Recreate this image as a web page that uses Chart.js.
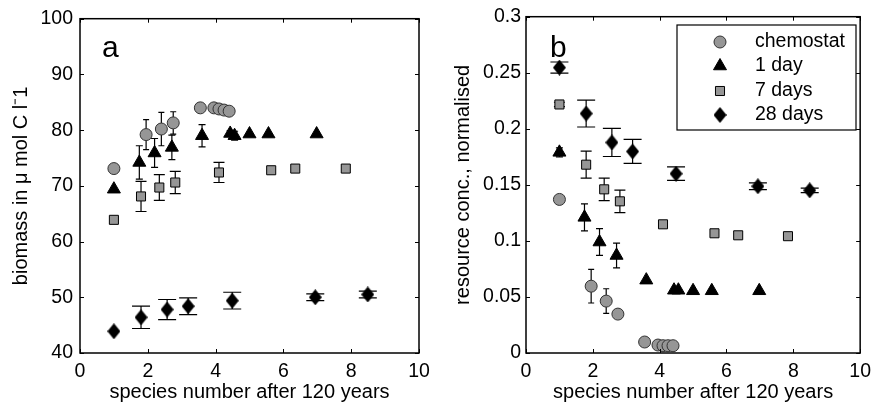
<!DOCTYPE html>
<html>
<head>
<meta charset="utf-8">
<script src="https://cdn.jsdelivr.net/npm/chart.js@4/dist/chart.umd.min.js"></script>
<style>
  html, body { margin: 0; padding: 0; background: #fff; }
  #wrap { position: relative; width: 878px; height: 408px; }
  canvas { position: absolute; top: 0; }
  #left { left: 0; }
  #right { left: 440px; }
</style>
</head>
<body>
<div id="wrap">
  <canvas id="left" width="440" height="408"></canvas>
  <canvas id="right" width="438" height="408"></canvas>
</div>
<script>
// species number after 120 years, one list per treatment
const chemX = [1, 1.95, 2.4, 2.75, 3.55, 3.95, 4.1, 4.25, 4.4];
const day1X = [1, 1.75, 2.2, 2.71, 3.6, 4.43, 4.56, 5.0, 5.56, 6.98];
const day7X = [1, 1.8, 2.34, 2.81, 4.1, 5.64, 6.35, 7.84];
const day28X = [1, 1.8, 2.57, 3.19, 4.49, 6.94, 8.49];

// panel a: biomass (umol C / l) and error half-widths
const chemBio = [73.1, 79.2, 80.2, 81.3, 84.0, 84.0, 83.8, 83.6, 83.4];
const chemBioErr = [0, 2.7, 3.0, 2.0, 0, 0, 0, 0, 0];
const day1Bio = [69.4, 74.2, 75.9, 76.9, 79.0, 79.4, 79.0, 79.3, 79.3, 79.3];
const day1BioErr = [0, 3.0, 2.6, 2.2, 2.0, 0.5, 0.8, 0, 0, 0];
const day7Bio = [63.9, 68.1, 69.7, 70.6, 72.4, 72.8, 73.1, 73.1];
const day7BioErr = [0, 2.7, 2.3, 2.0, 1.8, 0, 0, 0];
const day28Bio = [43.9, 46.4, 47.8, 48.4, 49.4, 50.0, 50.5];
const day28BioErr = [0, 2.0, 1.8, 1.5, 1.5, 0.6, 0.6];

// panel b: normalised resource concentration
const chemRes = [0.137, 0.0596, 0.0463, 0.0347, 0.0098, 0.0071, 0.0065, 0.0065, 0.0065];
const chemResErr = [0, 0.015, 0.011, 0, 0, 0, 0, 0, 0];
const day1Res = [0.179, 0.121, 0.099, 0.087, 0.065, 0.056, 0.056, 0.0555, 0.0555, 0.0555];
const day1ResErr = [0.004, 0.012, 0.012, 0.011, 0, 0, 0, 0, 0, 0];
const day7Res = [0.2217, 0.168, 0.146, 0.1353, 0.1148, 0.1068, 0.105, 0.1042];
const day7ResErr = [0.002, 0.012, 0.01, 0.01, 0, 0, 0, 0];
const day28Res = [0.2546, 0.2136, 0.1878, 0.1798, 0.160, 0.1487, 0.1451];
const day28ResErr = [0.005, 0.012, 0.0125, 0.0107, 0.006, 0.003, 0.002];

const seriesNames = ['chemostat', '1 day', '7 days', '28 days'];

const xTicks = [0, 2, 4, 6, 8, 10];
const xTickLabels = ['0', '2', '4', '6', '8', '10'];
const bioTicks = [40, 50, 60, 70, 80, 90, 100];
const bioTickLabels = ['40', '50', '60', '70', '80', '90', '100'];
const resTicks = [0, 0.05, 0.1, 0.15, 0.2, 0.25, 0.3];
const resTickLabels = ['0', '0.05', '0.1', '0.15', '0.2', '0.25', '0.3'];

Chart.defaults.font.family = '"Liberation Sans", Arial, Helvetica, sans-serif';
Chart.defaults.color = '#000';

const GRAY = 'rgb(150,150,150)';

// MATLAB style diamond is a bit taller than wide
function diamondImg(w, h) {
    const c = document.createElement('canvas');
    c.width = w; c.height = h;
    const g = c.getContext('2d');
    g.fillStyle = '#000';
    g.beginPath();
    g.moveTo(w / 2, 0); g.lineTo(w, h / 2); g.lineTo(w / 2, h); g.lineTo(0, h / 2);
    g.closePath();
    g.fill();
    return c;
}
const DIAMOND = diamondImg(13, 16);

function pts(xs, ys) {
    return xs.map((x, i) => ({ x: x, y: ys[i] }));
}

// error bars drawn under the markers
const errorBars = {
    id: 'errorBars',
    beforeDatasetsDraw(chart) {
        const ctx = chart.ctx, xs = chart.scales.x, ys = chart.scales.y;
        ctx.save();
        ctx.strokeStyle = '#000';
        ctx.lineWidth = 1.2;
        chart.data.datasets.forEach(ds => {
            if (!ds.errors) return;
            const c = ds.capHalf;
            ds.data.forEach((p, i) => {
                const e = ds.errors[i];
                if (!e) return;
                const x = xs.getPixelForValue(p.x);
                const y1 = ys.getPixelForValue(p.y - e);
                const y2 = ys.getPixelForValue(p.y + e);
                ctx.beginPath();
                ctx.moveTo(x, y1); ctx.lineTo(x, y2);
                ctx.moveTo(x - c, y1); ctx.lineTo(x + c, y1);
                ctx.moveTo(x - c, y2); ctx.lineTo(x + c, y2);
                ctx.stroke();
            });
        });
        ctx.restore();
    }
};

// box round the plot with inward ticks on all four sides
const frameBox = {
    id: 'frameBox',
    afterDraw(chart) {
        const ctx = chart.ctx, a = chart.chartArea;
        const xs = chart.scales.x, ys = chart.scales.y, tl = 4;
        ctx.save();
        ctx.strokeStyle = '#000';
        ctx.lineWidth = 1;
        ctx.beginPath();
        xs.ticks.forEach(t => {
            const x = Math.round(xs.getPixelForValue(t.value)) + 0.5;
            ctx.moveTo(x, a.bottom); ctx.lineTo(x, a.bottom - tl);
            ctx.moveTo(x, a.top); ctx.lineTo(x, a.top + tl);
        });
        ys.ticks.forEach(t => {
            const y = Math.round(ys.getPixelForValue(t.value)) + 0.5;
            ctx.moveTo(a.left, y); ctx.lineTo(a.left + tl, y);
            ctx.moveTo(a.right, y); ctx.lineTo(a.right - tl, y);
        });
        ctx.stroke();
        ctx.lineWidth = 1.5;
        ctx.strokeRect(a.left, a.top, a.right - a.left, a.bottom - a.top);
        ctx.restore();
    }
};

// panel letter + optional boxed legend
const panelDeco = {
    id: 'panelDeco',
    afterDraw(chart, args, opts) {
        const ctx = chart.ctx;
        ctx.save();
        ctx.fillStyle = '#000';
        ctx.font = '30px "Liberation Sans", Arial, sans-serif';
        ctx.textBaseline = 'alphabetic';
        ctx.fillText(opts.letter, opts.letterX, opts.letterY);
        if (opts.legend) {
            const L = opts.legend;
            ctx.lineWidth = 1.2;
            ctx.strokeStyle = '#000';
            ctx.fillStyle = '#fff';
            ctx.fillRect(L.x, L.y, L.w, L.h);
            ctx.strokeRect(L.x, L.y, L.w, L.h);
            ctx.font = L.font;
            ctx.textBaseline = 'middle';
            chart.data.datasets.forEach((ds, i) => {
                const y = L.rowY[i];
                ctx.fillStyle = ds.backgroundColor;
                ctx.strokeStyle = ds.borderColor;
                ctx.lineWidth = ds.borderWidth;
                Chart.helpers.drawPoint(ctx, {
                    pointStyle: ds.pointStyle, radius: ds.pointRadius,
                    rotation: 0, borderWidth: ds.borderWidth
                }, L.markX, y);
                ctx.fillStyle = '#000';
                ctx.fillText(ds.label, L.textX, y);
            });
        }
        ctx.restore();
    }
};

function makeDatasets(chem, chemErr, d1, d1Err, d7, d7Err, d28, d28Err) {
    return [{
        label: seriesNames[0], data: pts(chemX, chem), errors: chemErr, capHalf: 3,
        pointStyle: 'circle', pointRadius: 6, backgroundColor: GRAY,
        borderColor: 'rgb(50,50,50)', borderWidth: 1
    }, {
        label: seriesNames[1], data: pts(day1X, d1), errors: d1Err, capHalf: 3.5,
        pointStyle: 'triangle', pointRadius: 7.5, backgroundColor: '#000',
        borderColor: '#000', borderWidth: 1
    }, {
        label: seriesNames[2], data: pts(day7X, d7), errors: d7Err, capHalf: 5.5,
        pointStyle: 'rect', pointRadius: 6.4, backgroundColor: GRAY,
        borderColor: '#000', borderWidth: 1
    }, {
        label: seriesNames[3], data: pts(day28X, d28), errors: d28Err, capHalf: 9,
        pointStyle: DIAMOND, pointRadius: 8, backgroundColor: '#000',
        borderColor: '#000', borderWidth: 0
    }];
}

function makeChart(id, cfg) {
    const ctx = document.getElementById(id).getContext('2d');
    return new Chart(ctx, {
        type: 'scatter',
        data: { datasets: cfg.datasets },
        plugins: [errorBars, frameBox, panelDeco],
        options: {
            responsive: false,
            animation: false,
            devicePixelRatio: 1,
            clip: false,
            layout: { padding: { top: 16, right: cfg.padRight, bottom: 0, left: 0 } },
            elements: { point: { hoverRadius: 6 } },
            plugins: {
                legend: { display: false },
                tooltip: { enabled: false },
                panelDeco: cfg.deco
            },
            scales: {
                x: {
                    type: 'linear', min: 0, max: 10,
                    afterBuildTicks: s => { s.ticks = xTicks.map(v => ({ value: v })); },
                    afterFit: s => { s.height = 55; },
                    grid: { display: false, drawTicks: false },
                    border: { display: false },
                    ticks: { padding: 7, font: { size: 19.5 }, callback: (v, i) => xTickLabels[i] },
                    title: {
                        display: true, text: 'species number after 120 years',
                        font: { size: 20 }, padding: { top: 0, bottom: 4 }
                    }
                },
                y: {
                    type: 'linear', min: cfg.yMin, max: cfg.yMax,
                    afterBuildTicks: s => { s.ticks = cfg.yTicks.map(v => ({ value: v })); },
                    afterFit: s => { s.width = cfg.yWidth; },
                    grid: { display: false, drawTicks: false },
                    border: { display: false },
                    ticks: { padding: cfg.yTickPad, font: { size: 19.5 }, callback: (v, i) => cfg.yTickLabels[i] },
                    title: {
                        display: true, text: cfg.yTitle,
                        font: { size: 20 }, padding: { top: cfg.yTitlePad, bottom: 0 }
                    }
                }
            }
        }
    });
}

makeChart('left', {
    datasets: makeDatasets(chemBio, chemBioErr, day1Bio, day1BioErr, day7Bio, day7BioErr, day28Bio, day28BioErr),
    yMin: 40, yMax: 100, yTicks: bioTicks, yTickLabels: bioTickLabels,
    yTitle: 'biomass in \u03BC mol C l\u207B1', yTitlePad: 9, yTickPad: 7,
    yWidth: 80, padRight: 21,
    deco: { letter: 'a', letterX: 102, letterY: 57 }
});

makeChart('right', {
    datasets: makeDatasets(chemRes, chemResErr, day1Res, day1ResErr, day7Res, day7ResErr, day28Res, day28ResErr),
    yMin: 0, yMax: 0.3, yTicks: resTicks, yTickLabels: resTickLabels,
    yTitle: 'resource conc., normalised', yTitlePad: 11, yTickPad: 5,
    yWidth: 86, padRight: 12,
    deco: {
        letter: 'b', letterX: 110, letterY: 57,
        legend: {
            x: 237, y: 25, w: 179, h: 105, markX: 280, textX: 315,
            rowY: [42, 66, 91, 115], font: '19.5px "Liberation Sans", Arial, sans-serif'
        }
    }
});
</script>
</body>
</html>
